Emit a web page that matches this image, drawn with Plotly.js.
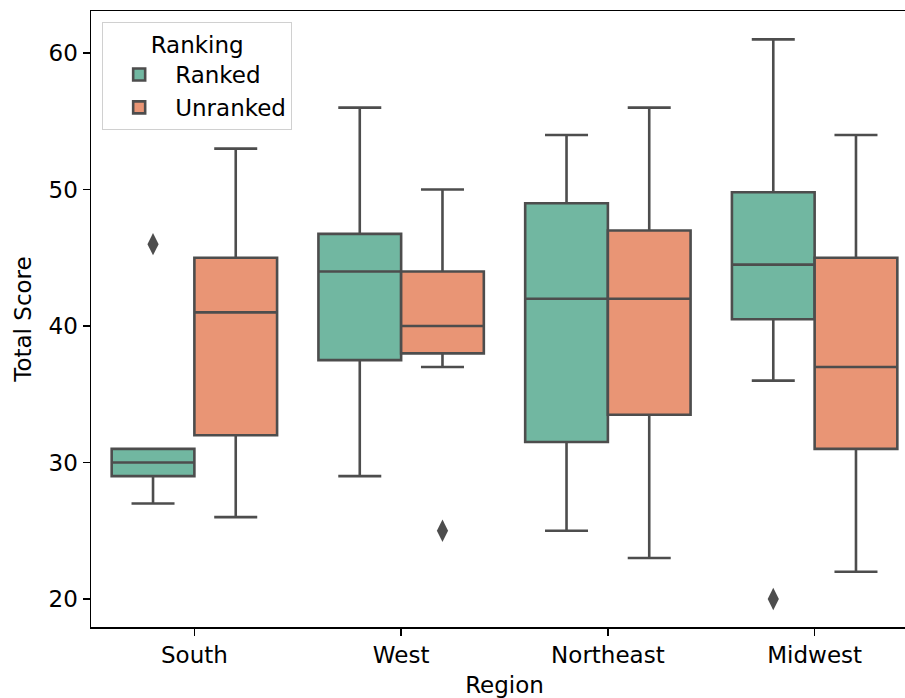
<!DOCTYPE html>
<html>
<head>
<meta charset="utf-8">
<script src="https://cdn.plot.ly/plotly-3.0.1.min.js"></script>
<style>
html, body { margin: 0; padding: 0; overflow: hidden; background: #fff; }
#chart { width: 920px; height: 698px; }
</style>
</head>
<body>
<div id="chart"></div>
<script>
// Data
const regions = ["South", "West", "Northeast", "Midwest"];

const rankedQ1      = [29, 37.5, 31.5, 40.5];
const rankedMedian  = [30, 44, 42, 44.5];
const rankedQ3      = [31, 46.75, 49, 49.8];
const rankedLow     = [27, 29, 25, 36];
const rankedHigh    = [31, 56, 54, 61];

const unrankedQ1     = [32, 38, 33.5, 31];
const unrankedMedian = [41, 40, 42, 37];
const unrankedQ3     = [45, 44, 47, 45];
const unrankedLow    = [26, 37, 23, 22];
const unrankedHigh   = [53, 50, 56, 54];

const rankedOutlierRegions = ["South", "Midwest"];
const rankedOutlierValues  = [46, 20];
const unrankedOutlierRegions = ["West"];
const unrankedOutlierValues  = [25];

const lineGray = "#4d4d4d";
const greenFill = "#71b7a1";
const orangeFill = "#e99575";
const FONT = "DejaVu Sans, Liberation Sans, sans-serif";
const FS = 23;

const traces = [
  {
    type: "box", name: "Ranked", x: regions,
    q1: rankedQ1, median: rankedMedian, q3: rankedQ3,
    lowerfence: rankedLow, upperfence: rankedHigh,
    offsetgroup: "r", alignmentgroup: "a",
    fillcolor: greenFill, line: {color: lineGray, width: 2.6},
    whiskerwidth: 0.52, boxpoints: false, hoverinfo: "y"
  },
  {
    type: "box", name: "Unranked", x: regions,
    q1: unrankedQ1, median: unrankedMedian, q3: unrankedQ3,
    lowerfence: unrankedLow, upperfence: unrankedHigh,
    offsetgroup: "u", alignmentgroup: "a",
    fillcolor: orangeFill, line: {color: lineGray, width: 2.6},
    whiskerwidth: 0.52, boxpoints: false, hoverinfo: "y"
  },
  {
    type: "scatter", mode: "markers", x: rankedOutlierRegions, y: rankedOutlierValues,
    offsetgroup: "r", alignmentgroup: "a", showlegend: false,
    marker: {symbol: "diamond-tall", size: 16, color: lineGray, line: {width: 0}}
  },
  {
    type: "scatter", mode: "markers", x: unrankedOutlierRegions, y: unrankedOutlierValues,
    offsetgroup: "u", alignmentgroup: "a", showlegend: false,
    marker: {symbol: "diamond-tall", size: 16, color: lineGray, line: {width: 0}}
  }
];

const layout = {
  width: 920, height: 698,
  margin: {l: 91, r: 2, t: 11, b: 71},
  paper_bgcolor: "#ffffff", plot_bgcolor: "#ffffff",
  font: {family: FONT, size: FS, color: "#000000"},
  boxmode: "group", boxgap: 0.2, boxgroupgap: 0,
  scattermode: "group", scattergap: 0.2,
  showlegend: true,
  legend: {
    x: 0.0135, y: 0.982, xanchor: "left", yanchor: "top",
    bgcolor: "rgba(255,255,255,0.85)", bordercolor: "#d0d0d0", borderwidth: 1,
    title: {text: "Ranking", side: "top center", font: {size: FS}},
    font: {size: FS}, itemwidth: 62, tracegroupgap: 9
  },
  xaxis: {
    type: "category", categoryorder: "array", categoryarray: regions,
    range: [-0.5, 3.5],
    showline: true, linecolor: "#000000", linewidth: 1.5, mirror: true,
    ticks: "outside", ticklen: 7, tickwidth: 1.5, tickcolor: "#000000",
    showgrid: false, zeroline: false,
    title: {text: "Region", standoff: 11, font: {size: FS}}
  },
  yaxis: {
    range: [17.95, 63.08],
    tickvals: [20, 30, 40, 50, 60],
    showline: true, linecolor: "#000000", linewidth: 1.5, mirror: true,
    ticks: "outside", ticklen: 7, tickwidth: 1.5, tickcolor: "#000000",
    showgrid: false, zeroline: false,
    title: {text: "Total Score", standoff: 10, font: {size: FS}}
  }
};

Plotly.newPlot("chart", traces, layout, {displayModeBar: false, staticPlot: true});
</script>
</body>
</html>
